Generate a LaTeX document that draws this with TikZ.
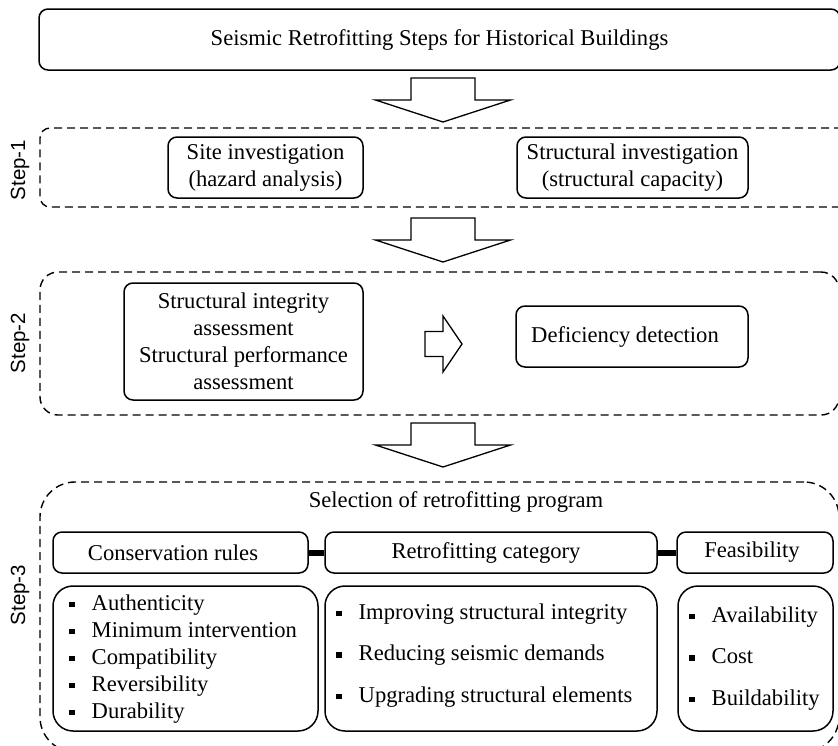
\documentclass[tikz,border=0pt]{standalone}
\usepackage{fontspec}
\setmainfont{Liberation Serif}
\setsansfont{Liberation Sans}
% small square bullet used in the lists
\newcommand\sqbul{\raisebox{3pt}{\rule{5.5pt}{5.5pt}}\hspace{17pt}}
\begin{document}
\begin{tikzpicture}[x=1pt,y=-1pt,
  box/.style={draw, line width=1.5pt, rounded corners=9pt, inner sep=0pt,
    align=center, font=\fontsize{22.6}{27}\selectfont},
  listbox/.style={box, rounded corners=20pt},
  zone/.style={draw, line width=1.4pt, dash pattern=on 8pt off 5pt, inner sep=0pt},
  steplabel/.style={rotate=90, inner sep=0pt, font=\sffamily\fontsize{20.5}{24}\selectfont},
  txt/.style={inner sep=0pt, font=\fontsize{22.6}{27}\selectfont},
  listtxt/.style={inner sep=0pt, anchor=west, align=left},
  link/.style={line width=6pt},
  blockarrow/.style={draw, line width=1.3pt, fill=white, line join=miter},
  downblock/.pic={\draw[blockarrow] (-32,0) -- (32,0) -- (32,22) -- (67.5,22)
    -- (0,44) -- (-67.5,22) -- (-32,22) -- cycle;},
  rightblock/.pic={\draw[blockarrow] (0,-12.5) -- (18,-12.5) -- (18,-28)
    -- (37,0) -- (18,28) -- (18,12.5) -- (0,12.5) -- cycle;}
]
\useasboundingbox (0,0) rectangle (838,745);
\clip (0,0) rectangle (838,745);

% title
\node[box, minimum width=801pt, minimum height=61pt] (title) at (439.5,39.5)
  {Seismic Retrofitting Steps for Historical Buildings};

% step zones
\node[zone, rounded corners=10pt, minimum width=812pt, minimum height=79pt] (step1) at (446,167.5) {};
\node[zone, rounded corners=18pt, minimum width=799pt, minimum height=143pt] (step2) at (439.5,343.5) {};
\node[zone, rounded corners=35pt, minimum width=799pt, minimum height=270pt] (step3) at (439.5,617) {};

\node[steplabel] (lab1) at (20,170) {Step-1};
\node[steplabel] (lab2) at (20,343) {Step-2};
\node[steplabel] (lab3) at (20,595) {Step-3};

% block arrows between the steps
\pic at (443,78) {downblock};
\pic at (443,218) {downblock};
\pic at (443,423) {downblock};
\pic at (425,344) {rightblock};

% step 1
\node[box, minimum width=195pt, minimum height=61pt] (site) at (265.5,167.5)
  {Site investigation\\(hazard analysis)};
\node[box, minimum width=231pt, minimum height=61pt] (struct) at (632.5,167.5)
  {Structural investigation\\(structural capacity)};

% step 2
\node[box, minimum width=239pt, minimum height=117pt] (integ) at (243.5,341.5)
  {Structural integrity\\assessment\\Structural performance\\assessment};
\node[box, minimum width=232pt, minimum height=61pt] (defic) at (632,336.5) {};
\node[txt] (defictxt) at (625,336.5) {Deficiency detection};

% step 3
\node[txt] (sel) at (456,502) {Selection of retrofitting program};

\node[box, minimum width=255pt, minimum height=41pt] (cons) at (180.5,552.5) {};
\node[txt] (constxt) at (173,552.5) {Conservation rules};
\node[box, minimum width=332pt, minimum height=41pt] (cat) at (491,552.5) {};
\node[txt] (cattxt) at (486,552.5) {Retrofitting category};
\node[box, minimum width=156pt, minimum height=41pt] (feas) at (755,552.5) {};
\node[txt] (feastxt) at (752,552.5) {Feasibility};

\draw[link] (cons.east) -- (cat.west);
\draw[link] (cat.east) -- (feas.west);

\node[listbox, minimum width=265pt, minimum height=145pt] (conslist) at (185.5,658.5) {};
\node[listbox, minimum width=332pt, minimum height=145pt] (catlist) at (491,658.5) {};
\node[listbox, minimum width=155pt, minimum height=145pt] (feaslist) at (755.5,658.5) {};

\node[listtxt, font=\fontsize{22.6}{27}\selectfont] (consitems) at (69,659)
  {\sqbul Authenticity\\\sqbul Minimum intervention\\\sqbul Compatibility\\
   \sqbul Reversibility\\\sqbul Durability};
\node[listtxt, font=\fontsize{22.6}{41.5}\selectfont] (catitems) at (336,655.5)
  {\sqbul Improving structural integrity\\\sqbul Reducing seismic demands\\
   \sqbul Upgrading structural elements};
\node[listtxt, font=\fontsize{22.6}{41.5}\selectfont] (feasitems) at (689,658.5)
  {\sqbul Availability\\\sqbul Cost\\\sqbul Buildability};
\end{tikzpicture}
\end{document}
